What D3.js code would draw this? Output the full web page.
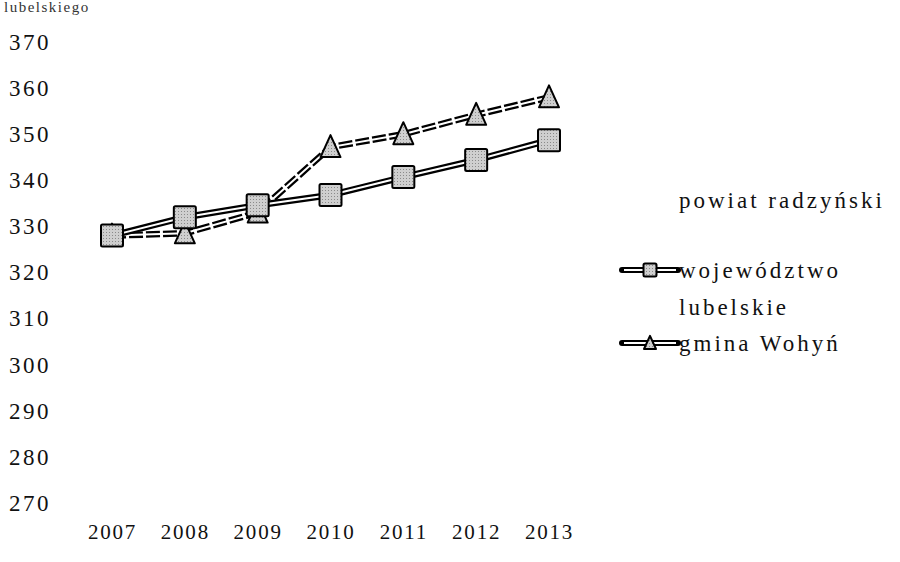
<!DOCTYPE html>
<html>
<head>
<meta charset="utf-8">
<script src="https://cdn.jsdelivr.net/npm/d3@7"></script>
<style>
  body { margin: 0; background: #fff; }
  svg { display: block; }
</style>
</head>
<body>
<script>
// dane
const years = ["2007", "2008", "2009", "2010", "2011", "2012", "2013"];
const wojewodztwo = [328, 332, 334.6, 336.8, 340.7, 344.4, 348.7];
const gmina = [328, 328.5, 333, 347.2, 350, 354.2, 358];
const yTicks = [370, 360, 350, 340, 330, 320, 310, 300, 290, 280, 270];
const legendNames = ["powiat radzyński", "województwo lubelskie", "gmina Wohyń"];

const width = 900, height = 562;
const font = "'Liberation Serif', 'DejaVu Serif', serif";

const svg = d3.select("body").append("svg")
    .attr("width", width)
    .attr("height", height)
    .attr("font-family", font);

svg.append("rect").attr("width", width).attr("height", height).attr("fill", "#fff");

// tekstura markerow
const defs = svg.append("defs");
const pat = defs.append("pattern")
    .attr("id", "dots")
    .attr("width", 3).attr("height", 3)
    .attr("patternUnits", "userSpaceOnUse");
pat.append("rect").attr("width", 3).attr("height", 3).attr("fill", "#cfcfcf");
pat.append("rect").attr("x", 1).attr("y", 1).attr("width", 1).attr("height", 1).attr("fill", "#8a8a8a");

const x = d3.scalePoint().domain(years).range([112, 549]);
const y = d3.scaleLinear().domain([270, 370]).range([503, 42]);

// tytul u gory (w oryginale obciety)
svg.append("text")
    .text("lubelskiego")
    .attr("x", 4)
    .attr("y", 12)
    .attr("font-size", 15)
    .attr("letter-spacing", 1.5)
    .attr("fill", "#333");

// os Y
const yAxis = svg.append("g")
    .call(d3.axisLeft(y).tickValues(yTicks).tickSize(0).tickFormat(d3.format("d")));
yAxis.select(".domain").remove();
yAxis.selectAll("text")
    .attr("x", 9)
    .attr("text-anchor", "start")
    .attr("font-family", font)
    .attr("font-size", 23)
    .attr("letter-spacing", 2.5)
    .attr("fill", "#111");

// os X
const xAxis = svg.append("g")
    .attr("transform", "translate(0,532)")
    .call(d3.axisBottom(x).tickSize(0));
xAxis.select(".domain").remove();
xAxis.selectAll("text")
    .attr("y", 0)
    .attr("dy", "0.35em")
    .attr("font-family", font)
    .attr("font-size", 21)
    .attr("letter-spacing", 1.8)
    .attr("fill", "#111");

const line = d3.line().x((d, i) => x(years[i])).y(d => y(d));

// linia podwojna (czarna z bialym srodkiem)
const doubleLine = (vals, dash) => {
    svg.append("path")
        .datum(vals)
        .attr("d", line)
        .attr("fill", "none")
        .attr("stroke", "#000")
        .attr("stroke-width", 6.5)
        .attr("stroke-dasharray", dash)
        .attr("stroke-linejoin", "round");
    svg.append("path")
        .datum(vals)
        .attr("d", line)
        .attr("fill", "none")
        .attr("stroke", "#fff")
        .attr("stroke-width", 2);
}

const triangle = (g, cx, cy, s) => {
    g.append("path")
        .attr("d", `M${cx},${cy - s * 0.6} L${cx + s / 2},${cy + s / 2} L${cx - s / 2},${cy + s / 2} Z`)
        .attr("fill", "url(#dots)")
        .attr("stroke", "#000")
        .attr("stroke-width", 2)
        .attr("stroke-linejoin", "round");
}

const square = (g, cx, cy, s) => {
    g.append("rect")
        .attr("x", cx - s / 2).attr("y", cy - s / 2)
        .attr("width", s).attr("height", s)
        .attr("rx", 1.5)
        .attr("fill", "url(#dots)")
        .attr("stroke", "#000")
        .attr("stroke-width", 2);
}

// gmina Wohyn
doubleLine(gmina, "14,3");
const gTri = svg.append("g");
gmina.forEach((v, i) => triangle(gTri, x(years[i]), y(v), 20));

// wojewodztwo lubelskie
doubleLine(wojewodztwo, null);
const gSq = svg.append("g");
wojewodztwo.forEach((v, i) => square(gSq, x(years[i]), y(v), 22));

// legenda
const legend = svg.append("g").attr("font-size", 23).attr("letter-spacing", 3).attr("fill", "#111");

legend.append("text").text(legendNames[0]).attr("x", 679).attr("y", 200).attr("dy", "0.35em");

const legendLine = (ly, kind) => {
    legend.append("line").attr("x1", 622).attr("x2", 678).attr("y1", ly).attr("y2", ly)
        .attr("stroke", "#000").attr("stroke-width", 6).attr("stroke-linecap", "round");
    legend.append("line").attr("x1", 624).attr("x2", 676).attr("y1", ly).attr("y2", ly)
        .attr("stroke", "#fff").attr("stroke-width", 2);
    if (kind === "square") square(legend, 650, ly, 13);
    else triangle(legend, 650, ly, 12);
}

legendLine(270, "square");
legend.append("text").text("województwo").attr("x", 679).attr("y", 270).attr("dy", "0.35em");
legend.append("text").text("lubelskie").attr("x", 679).attr("y", 307).attr("dy", "0.35em");

legendLine(343, "triangle");
legend.append("text").text(legendNames[2]).attr("x", 679).attr("y", 343).attr("dy", "0.35em");
</script>
</body>
</html>
